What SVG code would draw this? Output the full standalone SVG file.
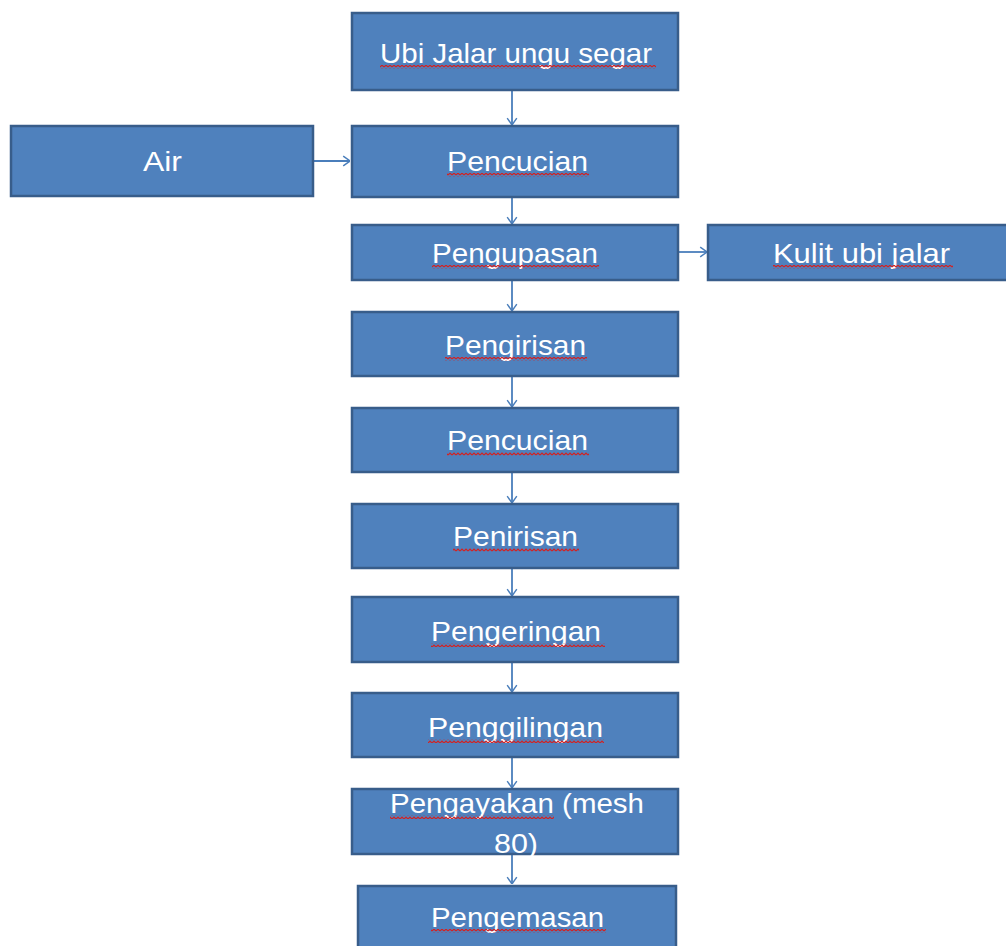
<svg xmlns="http://www.w3.org/2000/svg" width="1006" height="946" viewBox="0 0 1006 946">
<style>
.box{fill:#4F81BD;stroke:#385D8A;stroke-width:2.5}
.lbl{font-family:"Liberation Sans",Arial,sans-serif;font-size:28px;fill:#FFFFFF}
.arr{stroke:#4A7EBB;stroke-width:1.8;fill:none}
.sq{fill:url(#wave)}
</style>
<defs>
<marker id="ah" viewBox="0 0 10 14" refX="9.5" refY="7" markerWidth="8" markerHeight="13" markerUnits="userSpaceOnUse" orient="auto">
<path d="M1,1 L9.5,7 L1,13" fill="none" stroke="#4A7EBB" stroke-width="1.8"/>
</marker>
<pattern id="wave" width="4" height="4" patternUnits="userSpaceOnUse">
<path d="M0,3 L2,1 L4,3" fill="none" stroke="#D42020" stroke-width="1.2"/>
</pattern>
</defs>
<rect width="1006" height="946" fill="#FFFFFF"/>
<g id="connectors">
<line class="arr" x1="512" y1="90" x2="512" y2="125" marker-end="url(#ah)"/>
<line class="arr" x1="313" y1="161" x2="350" y2="161" marker-end="url(#ah)"/>
<line class="arr" x1="512" y1="197" x2="512" y2="224" marker-end="url(#ah)"/>
<line class="arr" x1="678" y1="252" x2="707" y2="252" marker-end="url(#ah)"/>
<line class="arr" x1="512" y1="280" x2="512" y2="311" marker-end="url(#ah)"/>
<line class="arr" x1="512" y1="376" x2="512" y2="407" marker-end="url(#ah)"/>
<line class="arr" x1="512" y1="472" x2="512" y2="503" marker-end="url(#ah)"/>
<line class="arr" x1="512" y1="568" x2="512" y2="596" marker-end="url(#ah)"/>
<line class="arr" x1="512" y1="662" x2="512" y2="692" marker-end="url(#ah)"/>
<line class="arr" x1="512" y1="757" x2="512" y2="788" marker-end="url(#ah)"/>
<line class="arr" x1="512" y1="854" x2="512" y2="884" marker-end="url(#ah)"/>
</g>
<g id="n-ubi">
<rect class="box" x="352" y="13" width="326" height="77"/>
<text class="lbl" x="380" y="63" textLength="272" lengthAdjust="spacingAndGlyphs">Ubi Jalar ungu segar</text>
<rect class="sq" x="380" y="65" width="276" height="4"/>
</g>
<g id="n-air">
<rect class="box" x="11" y="126" width="302" height="70"/>
<text class="lbl" x="143" y="171" textLength="39" lengthAdjust="spacingAndGlyphs">Air</text>
</g>
<g id="n-pencucian1">
<rect class="box" x="352" y="126" width="326" height="71"/>
<text class="lbl" x="447" y="171" textLength="141" lengthAdjust="spacingAndGlyphs">Pencucian</text>
<rect class="sq" x="447" y="173" width="142" height="4"/>
</g>
<g id="n-pengupasan">
<rect class="box" x="352" y="225" width="326" height="55"/>
<text class="lbl" x="432" y="263" textLength="166" lengthAdjust="spacingAndGlyphs">Pengupasan</text>
<rect class="sq" x="432" y="265" width="167" height="4"/>
</g>
<g id="n-kulit">
<rect class="box" x="708" y="225" width="300" height="55"/>
<text class="lbl" x="773" y="263" textLength="177" lengthAdjust="spacingAndGlyphs">Kulit ubi jalar</text>
<rect class="sq" x="773" y="265" width="180" height="4"/>
</g>
<g id="n-pengirisan">
<rect class="box" x="352" y="312" width="326" height="64"/>
<text class="lbl" x="445" y="355" textLength="141" lengthAdjust="spacingAndGlyphs">Pengirisan</text>
<rect class="sq" x="445" y="357" width="142" height="4"/>
</g>
<g id="n-pencucian2">
<rect class="box" x="352" y="408" width="326" height="64"/>
<text class="lbl" x="447" y="450" textLength="141" lengthAdjust="spacingAndGlyphs">Pencucian</text>
<rect class="sq" x="447" y="452" width="142" height="4"/>
</g>
<g id="n-penirisan">
<rect class="box" x="352" y="504" width="326" height="64"/>
<text class="lbl" x="453" y="546" textLength="125" lengthAdjust="spacingAndGlyphs">Penirisan</text>
<rect class="sq" x="453" y="548" width="126" height="4"/>
</g>
<g id="n-pengeringan">
<rect class="box" x="352" y="597" width="326" height="65"/>
<text class="lbl" x="431" y="641" textLength="170" lengthAdjust="spacingAndGlyphs">Pengeringan</text>
<rect class="sq" x="431" y="643" width="174" height="4"/>
</g>
<g id="n-penggilingan">
<rect class="box" x="352" y="693" width="326" height="64"/>
<text class="lbl" x="428" y="737" textLength="175" lengthAdjust="spacingAndGlyphs">Penggilingan</text>
<rect class="sq" x="428" y="739" width="176" height="4"/>
</g>
<g id="n-pengayakan">
<rect class="box" x="352" y="789" width="326" height="65"/>
<text class="lbl" x="390" y="813" textLength="254" lengthAdjust="spacingAndGlyphs">Pengayakan (mesh</text>
<text class="lbl" x="494" y="853" textLength="44" lengthAdjust="spacingAndGlyphs">80)</text>
<rect class="sq" x="390" y="815" width="164" height="4"/>
</g>
<g id="n-pengemasan">
<rect class="box" x="358" y="886" width="318" height="64"/>
<text class="lbl" x="431" y="927" textLength="173" lengthAdjust="spacingAndGlyphs">Pengemasan</text>
<rect class="sq" x="431" y="929" width="175" height="4"/>
</g>
</svg>
